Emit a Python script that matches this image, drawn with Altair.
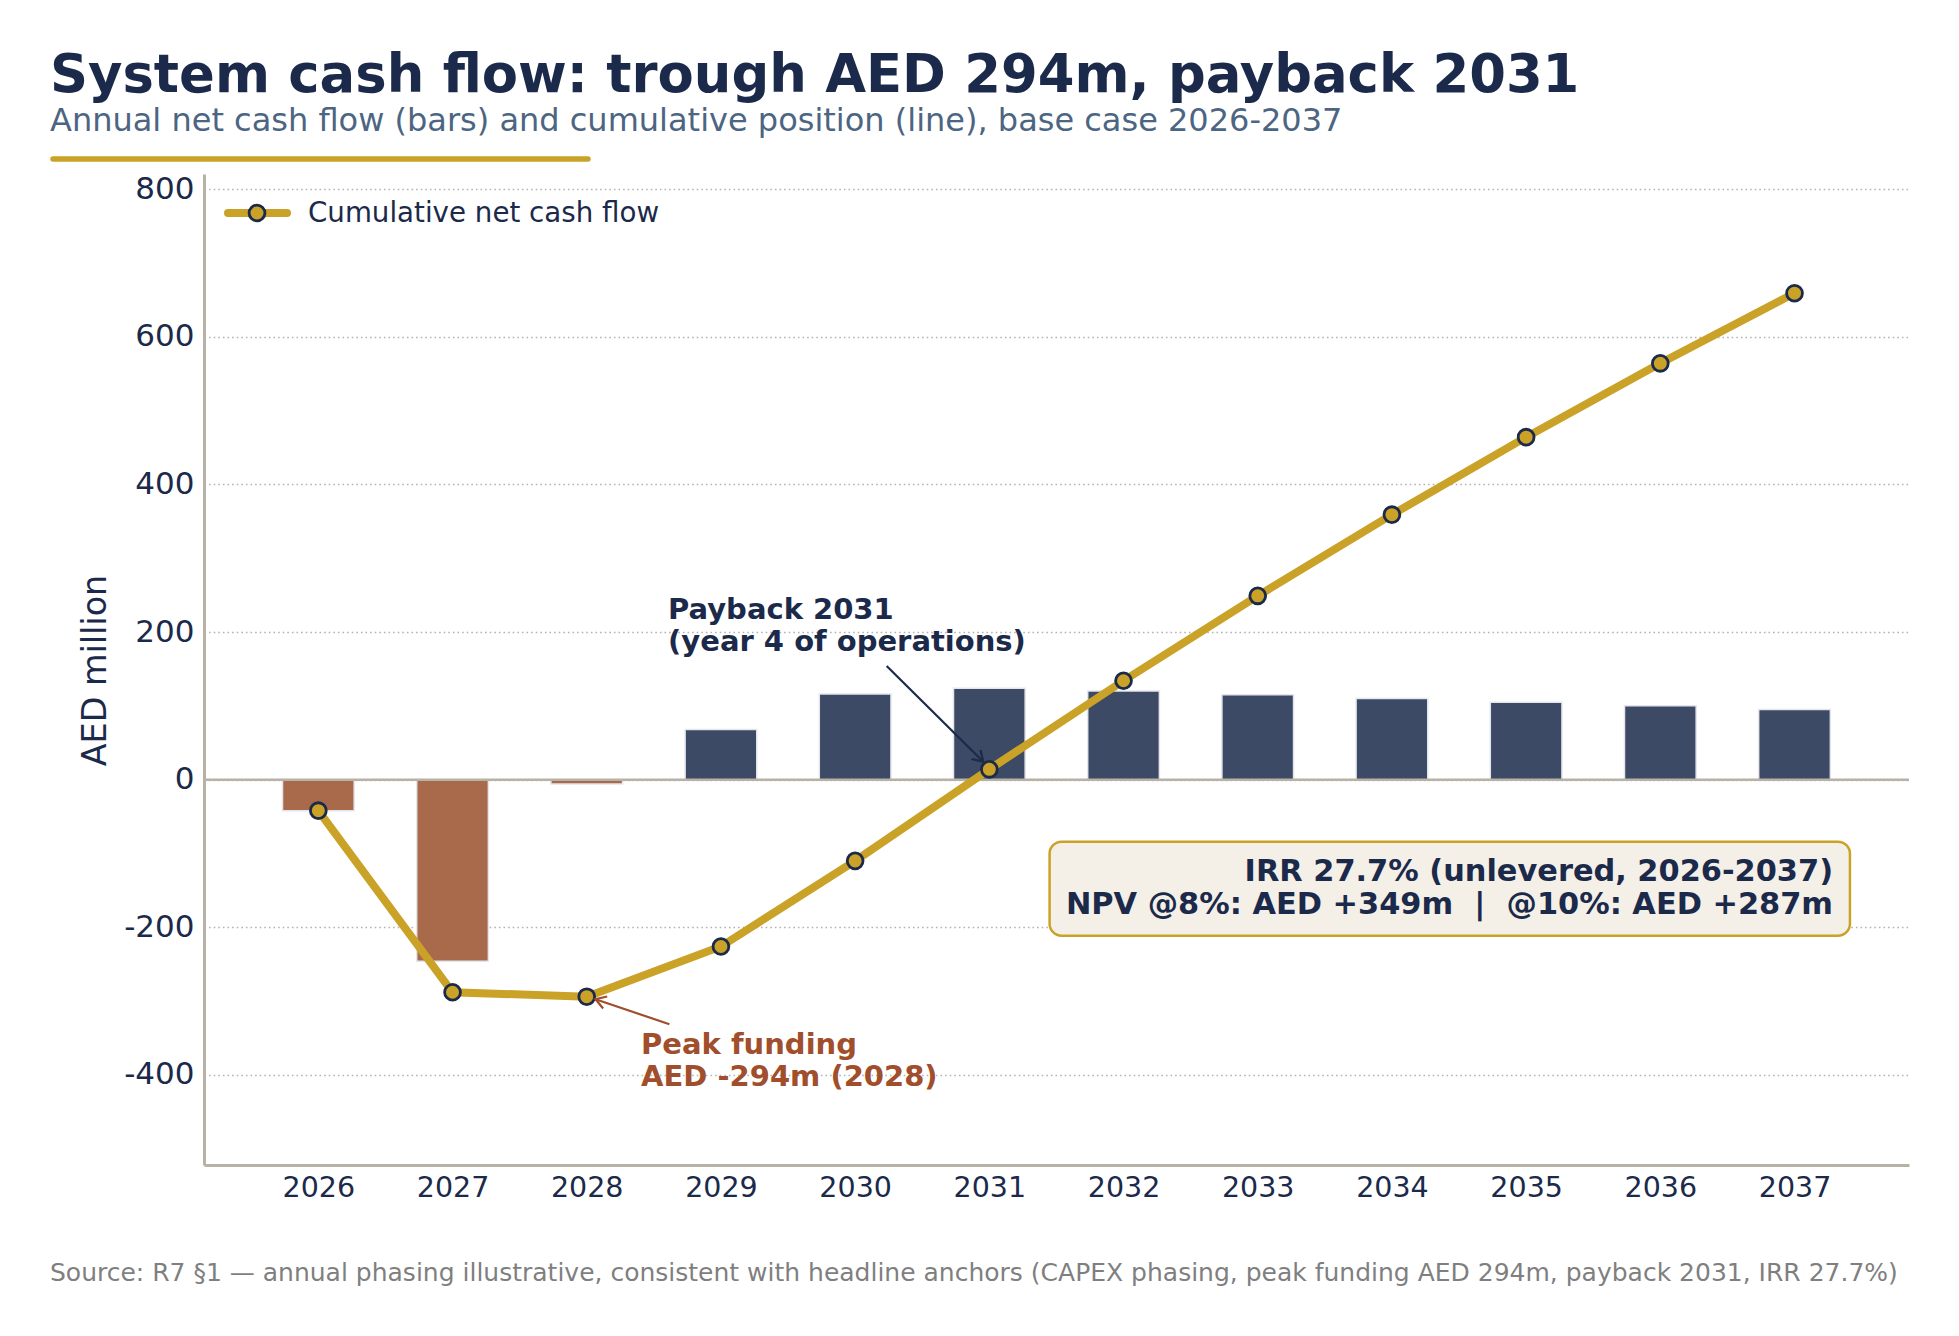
import altair as alt
import pandas as pd

# ---- data -------------------------------------------------------------
years = list(range(2026, 2038))
annual_net = [-42, -246, -6, 68, 116, 124, 120, 115, 110, 105, 100, 95]
cumulative = [-42, -288, -294, -226, -110, 14, 134, 249, 359, 464, 564, 659]
y_ticks = [-400, -200, 0, 200, 400, 600, 800]

title_text = "System cash flow: trough AED 294m, payback 2031"
subtitle_text = "Annual net cash flow (bars) and cumulative position (line), base case 2026-2037"
source_text = ("Source: R7 \u00a71 \u2014 annual phasing illustrative, consistent with headline anchors "
               "(CAPEX phasing, peak funding AED 294m, payback 2031, IRR 27.7%)")
legend_label = "Cumulative net cash flow"
payback_lines = ["Payback 2031", "(year 4 of operations)"]
peak_lines = ["Peak funding", "AED -294m (2028)"]
kpi_lines = ["IRR 27.7% (unlevered, 2026-2037)",
             "NPV @8%: AED +349m \u00a0|\u00a0 @10%: AED +287m"]

# ---- style --------------------------------------------------------------
FONT = "DejaVu Sans"
NAVY = "#1b2a4a"
GOLD = "#c9a227"
RUST_BAR = "#a9694b"
SLATE_BAR = "#3d4a66"
RUST_TXT = "#a04e2c"
AXIS = "#b8b2a6"
GRID = "#b3b3b3"

PLOT_W, PLOT_H = 1705, 991
PAD = {"left": 204, "top": 174, "right": 50, "bottom": 171}

x_scale = alt.Scale(domain=[2025.148, 2037.853], nice=False, zero=False)
y_scale = alt.Scale(domain=[-522, 820.5], nice=False, zero=False)

# one shared axis definition per channel, used by every layer so they merge cleanly
x_axis = alt.Axis(
    values=years, labelExpr="datum.value + ''", ticks=False, tickSize=0,
    grid=False, title=None, labelFont=FONT, labelFontSize=28.5, labelPadding=8,
    labelColor=NAVY, domainColor=AXIS, domainWidth=3, labelFlush=False)
y_axis = alt.Axis(
    values=y_ticks, labelExpr="datum.value + ''", ticks=False, tickSize=0,
    grid=True, gridDash=[1.6, 3], gridColor=GRID, gridWidth=1.6, title=None,
    labelFont=FONT, labelFontSize=31, labelPadding=10, labelColor=NAVY,
    domainColor=AXIS, domainWidth=3, labelFlush=False)


def X(field):
    return alt.X(field, scale=x_scale, axis=x_axis, title=None)


def Y(field):
    return alt.Y(field, scale=y_scale, axis=y_axis, title=None)


flows = pd.DataFrame({"year": years, "annual": annual_net, "cumulative": cumulative})

# ---- annual bars ---------------------------------------------------------------
bars = alt.Chart(flows).transform_calculate(
    x0="datum.year - 0.267",
    x1="datum.year + 0.267",
    sign="datum.annual < 0 ? 'out' : 'in'",
).mark_bar(stroke="#e4e6ec", strokeWidth=1.5).encode(
    x=X("x0:Q"),
    x2="x1:Q",
    y=Y("annual:Q"),
    y2=alt.datum(0),
    color=alt.Color("sign:N", scale=alt.Scale(domain=["out", "in"], range=[RUST_BAR, SLATE_BAR]),
                    legend=None),
)

zero_line = alt.Chart(pd.DataFrame({"v": [0]})).mark_rule(color=AXIS, strokeWidth=2.5).encode(
    y=Y("v:Q"))

# ---- cumulative line ------------------------------------------------------
line = alt.Chart(flows).mark_line(color=GOLD, strokeWidth=8).encode(
    x=X("year:Q"), y=Y("cumulative:Q"))
dots = alt.Chart(flows).mark_point(
    shape="circle", filled=True, fill=GOLD, stroke=NAVY, strokeWidth=2.8, size=250, opacity=1
).encode(x=X("year:Q"), y=Y("cumulative:Q"))

# ---- annotations ------------------------------------------------------------
ARROW_HEAD = "M -1 -0.62 L 0 0 L -1 0.62"


def arrow(x0, y0, x1, y1, color, angle):
    seg = pd.DataFrame({"x": [x0], "y": [y0], "x2": [x1], "y2": [y1]})
    shaft = alt.Chart(seg).mark_rule(color=color, strokeWidth=2.2).encode(
        x=X("x:Q"), x2="x2:Q", y=Y("y:Q"), y2="y2:Q")
    head = alt.Chart(seg).mark_point(
        shape=ARROW_HEAD, filled=False, stroke=color, strokeWidth=2.2, size=420,
        angle=angle, opacity=1
    ).encode(x=X("x2:Q"), y=Y("y2:Q"))
    return shaft + head


def note(x, y, lines, color, align, line_h, size=29):
    pos = pd.DataFrame({"x": [x], "y": [y]})
    return alt.Chart(pos).mark_text(
        font=FONT, fontSize=size, fontWeight="bold", color=color, align=align,
        baseline="alphabetic", lineHeight=line_h
    ).encode(x=X("x:Q"), y=Y("y:Q"), text=alt.value(lines))


payback_arrow = arrow(2030.235, 154, 2030.955, 24.4, NAVY, 44.7)
peak_arrow = arrow(2028.616, -331.3, 2028.065, -297.4, RUST_TXT, 198.7)
payback_note = note(2028.606, 217.3, payback_lines, NAVY, "left", 31.5)
peak_note = note(2028.405, -371.5, peak_lines, RUST_TXT, "left", 32.5)

kpi_box = alt.Chart(pd.DataFrame({"x": [2031.449], "x2": [2037.413], "y": [-84], "y2": [-211.3]})).mark_rect(
    fill="#f4f0e8", stroke=GOLD, strokeWidth=2.5, cornerRadius=12
).encode(x=X("x:Q"), x2="x2:Q", y=Y("y:Q"), y2="y2:Q")
kpi_note = note(2037.287, -137.2, kpi_lines, NAVY, "right", 33.3, size=30.4)

# ---- legend (line + marker + label) -------------------------------------------
one = pd.DataFrame({"k": [0]})
legend_line = alt.Chart(one).mark_rule(color=GOLD, strokeWidth=8, strokeCap="round").encode(
    x=alt.value(24), x2=alt.value(83), y=alt.value(39))
legend_dot = alt.Chart(one).mark_point(
    shape="circle", filled=True, fill=GOLD, stroke=NAVY, strokeWidth=2.8, size=250, opacity=1
).encode(x=alt.value(53), y=alt.value(39))
legend_text = alt.Chart(one).mark_text(
    font=FONT, fontSize=27.7, color=NAVY, align="left", baseline="middle"
).encode(x=alt.value(104), y=alt.value(40), text=alt.value(legend_label))

# ---- titles, underline, axis title, source ---------------------------------
title = alt.Chart(one).mark_text(
    font=FONT, fontSize=52.8, fontWeight="bold", color=NAVY, align="left", baseline="alphabetic"
).encode(x=alt.value(-154), y=alt.value(-82), text=alt.value(title_text))
subtitle = alt.Chart(one).mark_text(
    font=FONT, fontSize=32, color="#4c6582", align="left", baseline="alphabetic"
).encode(x=alt.value(-154), y=alt.value(-43), text=alt.value(subtitle_text))
underline = alt.Chart(one).mark_rule(color=GOLD, strokeWidth=5.5, strokeCap="round").encode(
    x=alt.value(-151), x2=alt.value(384), y=alt.value(-15))
y_title = alt.Chart(one).mark_text(
    font=FONT, fontSize=33.4, color=NAVY, align="center", baseline="middle", angle=270
).encode(x=alt.value(-108), y=alt.value(PLOT_H / 2 + 1), text=alt.value("AED million"))
source = alt.Chart(one).mark_text(
    font=FONT, fontSize=25, color="#7f7f7f", align="left", baseline="alphabetic"
).encode(x=alt.value(-154), y=alt.value(1107), text=alt.value(source_text))

chart = alt.layer(
    bars, zero_line, line, dots,
    payback_arrow, peak_arrow, payback_note, peak_note,
    kpi_box, kpi_note,
    legend_line, legend_dot, legend_text,
    title, subtitle, underline, y_title, source,
).properties(
    width=PLOT_W, height=PLOT_H,
    autosize=alt.AutoSizeParams(type="none"),
    padding=PAD, background="white",
).configure(font=FONT).configure_view(stroke=None)

chart.save("out.html", embed_options={"renderer": "svg", "actions": False})
